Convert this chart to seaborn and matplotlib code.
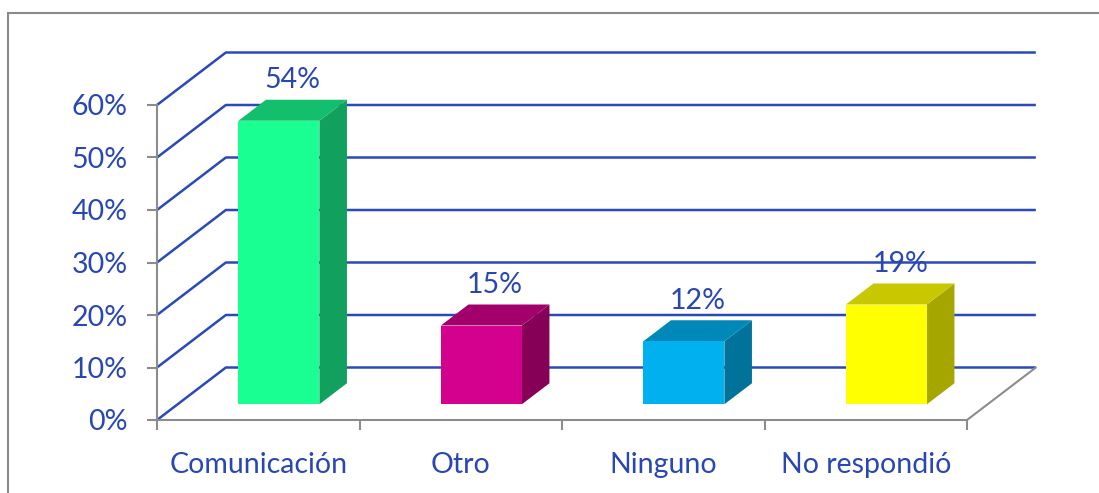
import matplotlib
matplotlib.use("Agg")
import matplotlib.pyplot as plt
from matplotlib.patches import Polygon, Rectangle
import seaborn as sns

# data
categories = ["Comunicación", "Otro", "Ninguno", "No respondió"]
values = [54, 15, 12, 19]
labels = ["54%", "15%", "12%", "19%"]
front_colors = ["#19FF92", "#D4008E", "#00B0EF", "#FFFF00"]
top_colors = ["#13BF6D", "#A2006A", "#0088B8", "#C8C800"]
side_colors = ["#12A05E", "#870058", "#00739A", "#A6A600"]
y_ticks = [0, 10, 20, 30, 40, 50, 60]

sns.set_style("white")
plt.rcParams["font.family"] = ["Lato", "DejaVu Sans"]

TXT = "#2846B4"
GRID = "#2B49B8"
AXC = "#8C8C8C"
FS = 20.5

# pseudo-3d geometry (data units)
DX, DY = 0.34, 10.0     # offset of the back wall
F0, F1 = 0.3, 0.7       # bar depth range (fraction of the depth)

fig = plt.figure(figsize=(10.99, 4.93), dpi=100)
ax = fig.add_axes([0, 0, 1, 1])

sns.barplot(x=categories, y=values, hue=categories, palette=front_colors,
            width=0.4, legend=False, ax=ax, zorder=4, saturation=1)

# move front faces back into the depth and add side / top faces
for p in ax.patches:
    i = int(round(p.get_x() + p.get_width() / 2))
    p.set_x(p.get_x() + F0 * DX)
    p.set_y(F0 * DY)
    p.set_linewidth(0)
    x0, x1 = p.get_x(), p.get_x() + p.get_width()
    y0, y1 = p.get_y(), p.get_y() + p.get_height()
    ddx, ddy = (F1 - F0) * DX, (F1 - F0) * DY
    side = Polygon([(x1, y0), (x1 + ddx, y0 + ddy), (x1 + ddx, y1 + ddy), (x1, y1)],
                   closed=True, facecolor=side_colors[i], edgecolor="none", zorder=3)
    top = Polygon([(x0, y1), (x1, y1), (x1 + ddx, y1 + ddy), (x0 + ddx, y1 + ddy)],
                  closed=True, facecolor=top_colors[i], edgecolor="none", zorder=3)
    ax.add_patch(side)
    ax.add_patch(top)
    ax.text(i + 0.17, values[i] + F1 * DY + 1.2, labels[i], ha="center", va="bottom",
            fontsize=FS, color=TXT, zorder=5)

# gridlines on side wall and back wall
for v in y_ticks:
    ax.plot([-0.5, -0.5 + DX, 3.5 + DX], [v, v + DY, v + DY],
            color=GRID, lw=1.8, zorder=1, solid_capstyle="butt")

# floor right edge
ax.plot([3.5, 3.5 + DX], [0, DY], color=AXC, lw=1.5, zorder=1)

ax.set_xlim(-0.5 - 157 / 202.5, -0.5 + 942 / 202.5)
ax.set_ylim(-73 / 5.25, 420 / 5.25)

# axes / spines
for s in ["top", "right"]:
    ax.spines[s].set_visible(False)
ax.spines["left"].set_position(("data", -0.5))
ax.spines["left"].set_bounds(0, 60)
ax.spines["bottom"].set_position(("data", 0))
ax.spines["bottom"].set_bounds(-0.5, 3.5)
for s in ["left", "bottom"]:
    ax.spines[s].set_color(AXC)
    ax.spines[s].set_linewidth(1.5)
    ax.spines[s].set_zorder(2)

ax.set_yticks(y_ticks)
ax.set_yticklabels([f"{t}%" for t in y_ticks])
ax.set_xticks([-0.5, 0.5, 1.5, 2.5, 3.5])
ax.set_xticklabels([])
ax.set_xticks(range(len(categories)), minor=True)
ax.set_xticklabels(categories, minor=True)
ax.tick_params(axis="y", direction="out", length=7, width=1.5, color=AXC,
               labelsize=FS, labelcolor=TXT, pad=14, left=True)
ax.tick_params(axis="x", which="major", direction="out", length=7, width=1.5,
               color=AXC, bottom=True)
ax.tick_params(axis="x", which="minor", length=0, labelsize=FS, labelcolor=TXT, pad=23)
ax.set_xlabel("")
ax.set_ylabel("")
ax.grid(False)
ax.patch.set_visible(False)

# outer chart frame
fig.patches.append(Rectangle((8 / 1099, -0.1), 1.2, 1.1 - 13 / 493, transform=fig.transFigure,
                             fill=False, edgecolor="#8A8A8A", lw=1.5))

fig.savefig("out.png", dpi=100)
